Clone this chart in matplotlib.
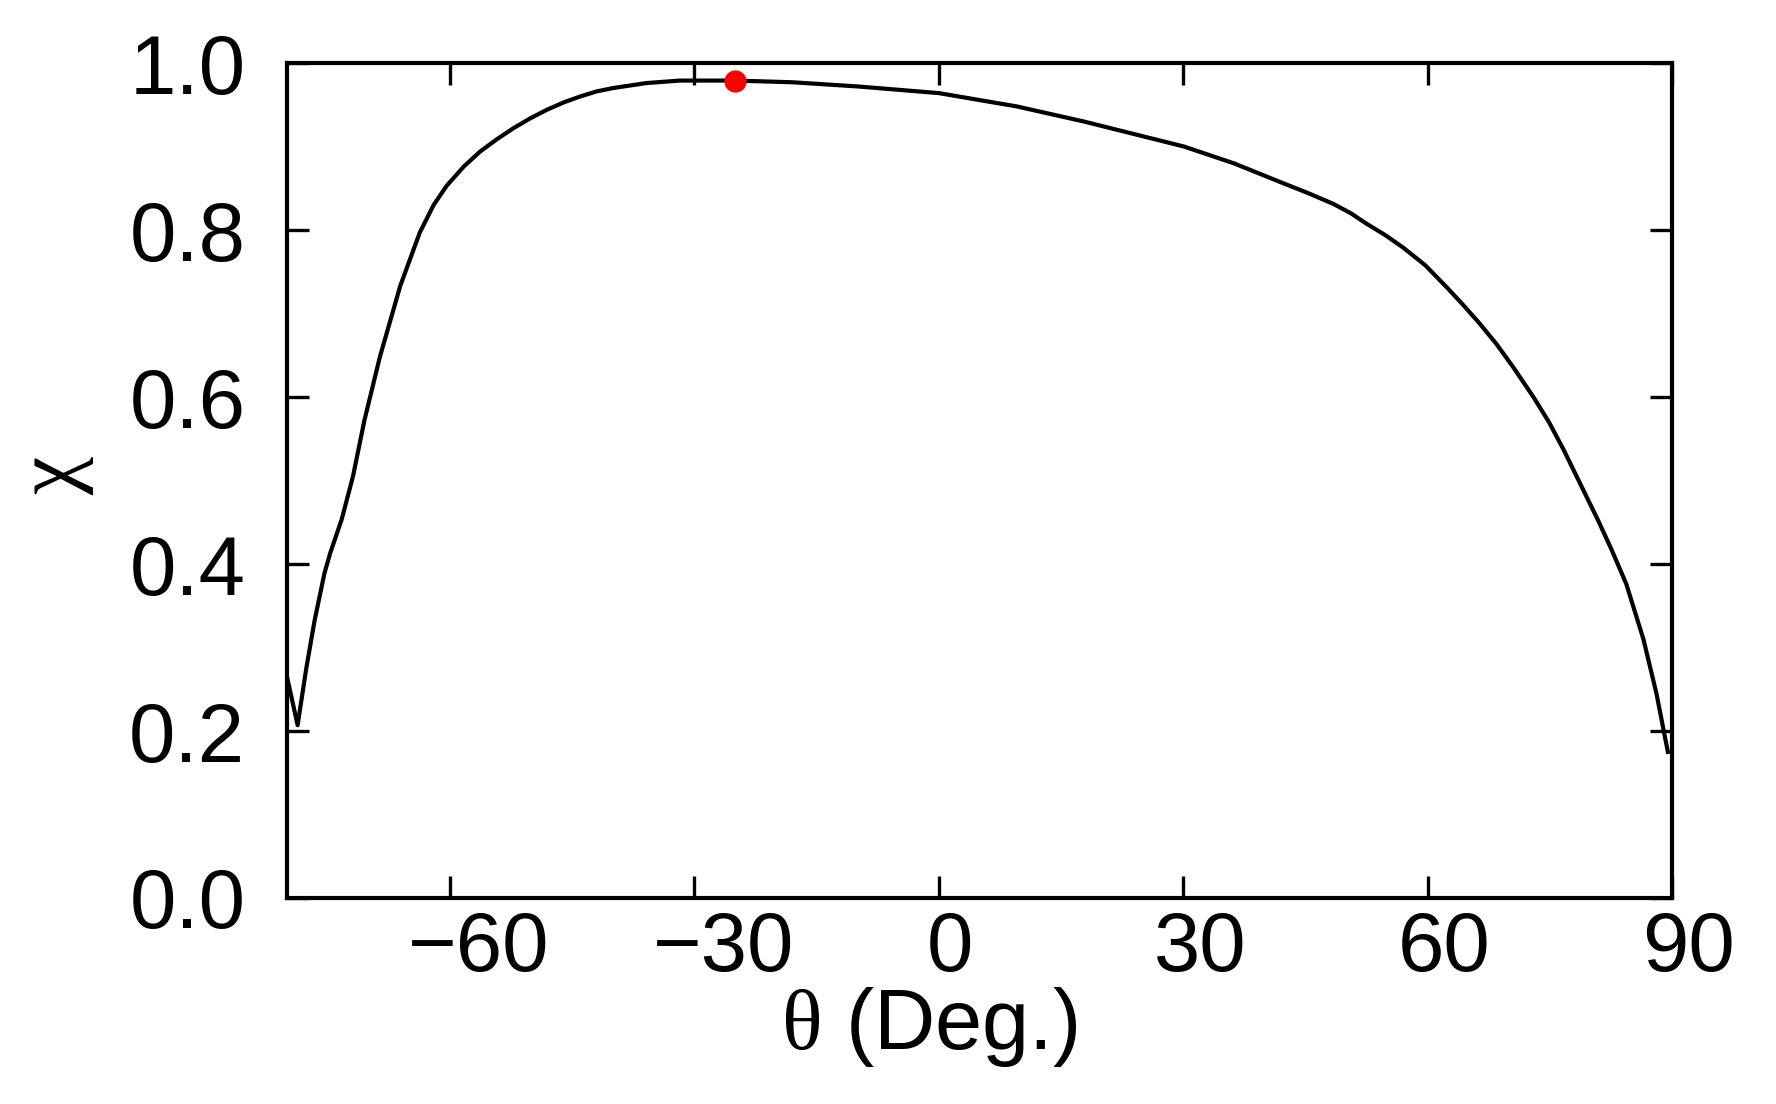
import matplotlib
matplotlib.use("Agg")
import matplotlib.pyplot as plt
from matplotlib.transforms import ScaledTranslation

# curve: theta (deg) vs chi
theta = [-80.0, -78.7, -77.6, -76.6, -75.4, -74.7, -73.3, -71.9, -70.5, -68.6,
         -66.1, -63.7, -62.0, -60.4, -58.3, -56.3, -54.2, -52.2, -50.1, -48.1,
         -46.0, -44.0, -42.0, -40.0, -35.9, -31.8, -25.0, -18.0, -10.0, 0.0,
         9.6, 17.8, 26.0, 30.1, 36.2, 42.3, 45.4, 48.5, 50.6, 52.6,
         54.8, 57.0, 59.7, 62.4, 64.4, 66.4, 68.5, 70.5, 73.0, 74.9,
         76.7, 78.0, 79.3, 81.0, 82.6, 84.4, 86.5, 88.1, 88.9, 89.5]
chi = [0.265, 0.207, 0.277, 0.333, 0.389, 0.413, 0.453, 0.505, 0.572, 0.648,
       0.733, 0.797, 0.830, 0.853, 0.876, 0.894, 0.909, 0.922, 0.934, 0.944,
       0.953, 0.960, 0.966, 0.970, 0.976, 0.979, 0.979, 0.977, 0.972, 0.964,
       0.948, 0.930, 0.910, 0.900, 0.880, 0.856, 0.844, 0.831, 0.820, 0.807,
       0.794, 0.779, 0.758, 0.731, 0.710, 0.688, 0.663, 0.636, 0.600, 0.570,
       0.537, 0.511, 0.485, 0.451, 0.417, 0.376, 0.310, 0.245, 0.205, 0.175]

# highlighted point (maximum)
peak_theta = [-25.0]
peak_chi = [0.978]

xticks = [-60, -30, 0, 30, 60, 90]
yticks = [0.0, 0.2, 0.4, 0.6, 0.8, 1.0]

plt.rcParams['font.family'] = ['Liberation Sans', 'DejaVu Sans']
plt.rcParams['mathtext.fontset'] = 'custom'
plt.rcParams['mathtext.rm'] = 'Liberation Serif'
plt.rcParams['mathtext.it'] = 'Liberation Serif:italic'

fig = plt.figure(figsize=(17.76, 11.04), dpi=100)
ax = fig.add_axes([0.1616, 0.1866, 0.7798, 0.7563])

ax.plot(theta, chi, color='black', linewidth=3, zorder=2,
        solid_joinstyle='round')
ax.plot(peak_theta, peak_chi, 'o', color='red', markersize=15, zorder=3)

ax.set_xlim(-80, 90)
ax.set_ylim(0, 1.0)
ax.set_xticks(xticks)
ax.set_yticks(yticks)
ax.set_yticklabels([f"{v:.1f}" for v in yticks])

ax.tick_params(direction='in', top=True, right=True, length=16, width=2.4,
               labelsize=60)
ax.tick_params(axis='x', pad=9)
ax.tick_params(axis='y', pad=30)
for s in ax.spines.values():
    s.set_linewidth(3)

# tick labels in the reference sit a little right of their ticks
for lab, v in zip(ax.get_xticklabels(), xticks):
    dx = 21 if v < 0 else (8 if v == 0 else 12)
    lab.set_transform(lab.get_transform() +
                      ScaledTranslation(dx / 72, 0, fig.dpi_scale_trans))

ax.set_xlabel(r'$\mathrm{\theta}$ (Deg.)', fontsize=61)
ax.xaxis.set_label_coords(0.4635, -0.104)
ax.set_ylabel('χ', fontsize=62, family=['Liberation Serif', 'DejaVu Serif'])
ax.yaxis.set_label_coords(-0.139, 0.505)

fig.savefig('out.png', dpi=100)
